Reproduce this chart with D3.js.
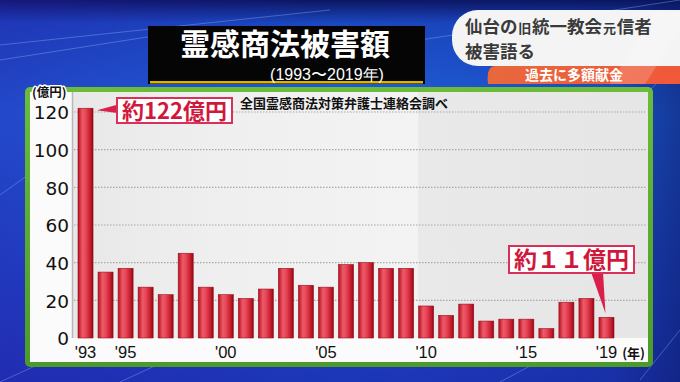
<!DOCTYPE html>
<html><head><meta charset="utf-8">
<script src="https://cdn.jsdelivr.net/npm/d3@7/dist/d3.min.js"></script>
<style>
html,body{margin:0;padding:0;background:#1a4fc8;overflow:hidden;}
svg{display:block;}
</style></head>
<body>
<svg id="c" width="680" height="382"></svg>
<script>
// ---- data ----
const years = [1993,1994,1995,1996,1997,1998,1999,2000,2001,2002,2003,2004,2005,2006,2007,2008,2009,2010,2011,2012,2013,2014,2015,2016,2017,2018,2019];
const damage = [122,35,37,27,23,45,27,23,21,26,37,28,27,39,40,37,37,17,12,18,9,10,10,5,19,21,11];
const yTicks = [0,20,40,60,80,100,120];
const xTickYears = [1993,1995,2000,2005,2010,2015,2019];
const xTickLabels = ["'93","'95","'00","'05","'10","'15","'19"];
const title = "霊感商法被害額";
const subtitle = "(1993〜2019年)";
const source = "全国霊感商法対策弁護士連絡会調べ";
const callouts = [{year:1993, text:"約122億円"}, {year:2019, text:"約１１億円"}];
const captionParts = [["仙台の",17.5],["旧",13],["統一教会",17.5],["元",13],["信者",17.5]];

const svg = d3.select("#c");
const defs = svg.append("defs");
const JP = "'Noto Sans CJK JP','Noto Sans CJK SC',sans-serif";

// background gradients
const bg = defs.append("linearGradient").attr("id","bg").attr("x1",0).attr("y1",0).attr("x2",0).attr("y2",1);
bg.append("stop").attr("offset","0").attr("stop-color","#0b1660");
bg.append("stop").attr("offset","0.06").attr("stop-color","#1a48c0");
bg.append("stop").attr("offset","0.3").attr("stop-color","#1f62dc");
bg.append("stop").attr("offset","1").attr("stop-color","#1c36b8");
const bg2 = defs.append("linearGradient").attr("id","bg2").attr("x1",0).attr("y1",0).attr("x2",1).attr("y2",0);
bg2.append("stop").attr("offset","0").attr("stop-color","#2a1aa8").attr("stop-opacity",0.35);
bg2.append("stop").attr("offset","0.5").attr("stop-color","#2a1aa8").attr("stop-opacity",0);
bg2.append("stop").attr("offset","0.9").attr("stop-color","#0a1660").attr("stop-opacity",0.2);
bg2.append("stop").attr("offset","1").attr("stop-color","#0a1660").attr("stop-opacity",0.55);
svg.append("rect").attr("width",680).attr("height",382).attr("fill","url(#bg)");
svg.append("rect").attr("width",680).attr("height",382).attr("fill","url(#bg2)");
const streaks = [[0,45,330,10],[0,60,160,35],[0,195,28,175],[0,382,70,350],[120,382,200,345],[500,382,560,350],[640,380,680,330],[420,40,680,0],[640,100,680,60]];
svg.append("g").selectAll("line").data(streaks).join("line")
  .attr("x1",d=>d[0]).attr("y1",d=>d[1]).attr("x2",d=>d[2]).attr("y2",d=>d[3])
  .attr("stroke","#9fc4ff").attr("stroke-opacity",0.35).attr("stroke-width",1);

// title box
svg.append("rect").attr("x",148).attr("y",26).attr("width",277).attr("height",58).attr("fill","#050505");
svg.append("rect").attr("x",150).attr("y",81).attr("width",273).attr("height",2.5).attr("fill","#d9b400");
svg.append("text").attr("x",285).attr("y",55).attr("text-anchor","middle")
  .attr("font-family",JP).attr("font-weight",700).attr("font-size",30).attr("fill","#fff").text(title);
svg.append("text").attr("x",327).attr("y",80).attr("text-anchor","middle")
  .attr("font-family","'Liberation Sans Narrow','Liberation Sans',sans-serif").attr("font-size",16).attr("fill","#fff").text(subtitle);

// top-right caption
svg.append("path").attr("d","M478,10 H680 V66 H478 A26,26 0 0 1 452,40 V36 A26,26 0 0 1 478,10 Z").attr("fill","#f4f4f4");
const og = defs.append("linearGradient").attr("id","og").attr("x1",0).attr("y1",0).attr("x2",1).attr("y2",0);
og.append("stop").attr("offset","0").attr("stop-color","#e8683c");
og.append("stop").attr("offset","1").attr("stop-color","#f0583a");
svg.append("path").attr("d","M495,66 H680 V84 H488 Q486,66 495,66 Z").attr("fill","url(#og)");
svg.append("polygon").attr("points","610,84 655,12 680,12 680,30 645,84").attr("fill","#ffffff").attr("opacity",0.18);
let cx = 465;
captionParts.forEach(([t,s])=>{
  const el = svg.append("text").attr("x",cx).attr("y",33).attr("font-family",JP).attr("font-weight",700)
    .attr("font-size",s).attr("fill","#3a3a3a").text(t);
  cx += el.node().getComputedTextLength() + 0.8;
});
svg.append("text").attr("x",465).attr("y",58).attr("font-family",JP).attr("font-weight",700).attr("font-size",17.5).attr("fill","#3a3a3a").text("被害語る");
svg.append("text").attr("x",574).attr("y",80).attr("text-anchor","middle").attr("font-family",JP).attr("font-weight",700).attr("font-size",14).attr("fill","#fff").text("過去に多額献金");

// panel
const gg = defs.append("linearGradient").attr("id","gg").attr("x1",0).attr("y1",0).attr("x2",0).attr("y2",1);
gg.append("stop").attr("offset","0").attr("stop-color","#6cbc3a");
gg.append("stop").attr("offset","1").attr("stop-color","#4c9a28");
svg.append("rect").attr("x",25).attr("y",87).attr("width",628).attr("height",280).attr("rx",5).attr("fill","url(#gg)");
svg.append("rect").attr("x",30).attr("y",92).attr("width",618).attr("height",270).attr("fill","#fbfbfb");

// scales
const x = d3.scaleBand().domain(years).range([75.5,616.5]).paddingInner(0.25).paddingOuter(0.125);
const y = d3.scaleLinear().domain([0,120]).range([338,112]);

// plot background
const pg = defs.append("linearGradient").attr("id","pg").attr("x1",0).attr("y1",0).attr("x2",1).attr("y2",0);
pg.append("stop").attr("offset","0").attr("stop-color","#e8e8e8");
pg.append("stop").attr("offset","0.25").attr("stop-color","#efefef");
pg.append("stop").attr("offset","0.6").attr("stop-color","#f3f3f3");
pg.append("stop").attr("offset","0.601").attr("stop-color","#e9e9e9");
pg.append("stop").attr("offset","1").attr("stop-color","#e6e6e6");
svg.append("rect").attr("x",73).attr("y",92).attr("width",575).attr("height",y(0)-92).attr("fill","url(#pg)");
svg.append("line").attr("x1",72.5).attr("x2",72.5).attr("y1",92).attr("y2",y(0)).attr("stroke","#b8b8b8").attr("stroke-width",1.5);

// gridlines
svg.append("g").selectAll("line").data(yTicks.filter(d=>d>0)).join("line")
  .attr("x1",74).attr("x2",646).attr("y1",d=>y(d)).attr("y2",d=>y(d))
  .attr("stroke","#a8a8a8").attr("stroke-width",1.2).attr("stroke-dasharray","1.5,1.5");

// bars
const rg = defs.append("linearGradient").attr("id","rg").attr("x1",0).attr("y1",0).attr("x2",1).attr("y2",0);
rg.append("stop").attr("offset","0").attr("stop-color","#b8101f");
rg.append("stop").attr("offset","0.3").attr("stop-color","#ec5a68");
rg.append("stop").attr("offset","0.5").attr("stop-color","#e8485a");
rg.append("stop").attr("offset","0.85").attr("stop-color","#c01828");
rg.append("stop").attr("offset","1").attr("stop-color","#8a0810");
svg.append("g").selectAll("rect").data(years).join("rect")
  .attr("x",d=>x(d)).attr("width",x.bandwidth())
  .attr("y",(d,i)=>y(damage[i])).attr("height",(d,i)=>y(0)-y(damage[i]))
  .attr("fill","url(#rg)").attr("stroke","#9a1020").attr("stroke-width",0.6);

// y axis
const yAxis = svg.append("g").attr("transform","translate(69,0)")
  .call(d3.axisLeft(y).tickValues(yTicks).tickSize(0).tickPadding(0));
yAxis.select(".domain").remove();
yAxis.selectAll("text").attr("font-family","'DejaVu Sans',sans-serif").attr("font-size",18.5).attr("fill","#111").attr("dy","0.36em");

// x axis
const xAxis = svg.append("g").attr("transform",`translate(0,${y(0)})`)
  .call(d3.axisBottom(x).tickValues(xTickYears).tickFormat(d=>xTickLabels[xTickYears.indexOf(d)]).tickSize(0).tickPadding(8));
xAxis.select(".domain").remove();
xAxis.selectAll("text").attr("font-family","'Liberation Sans Narrow','Liberation Sans',sans-serif").attr("font-size",16.5).attr("fill","#111").attr("dy","0.75em");

// unit labels
function haloText(xp, yp, txt, size, anchor){
  const g = svg.append("g");
  g.append("text").attr("x",xp).attr("y",yp).attr("text-anchor",anchor).attr("font-family",JP).attr("font-weight",700)
   .attr("font-size",size).attr("fill","none").attr("stroke","#fff").attr("stroke-width",3).attr("stroke-linejoin","round").text(txt);
  g.append("text").attr("x",xp).attr("y",yp).attr("text-anchor",anchor).attr("font-family",JP).attr("font-weight",700)
   .attr("font-size",size).attr("fill","#111").text(txt);
}
haloText(32,97,"(億円)",12.5,"start");
haloText(645,358,"(年)",13,"end");

// source
svg.append("text").attr("x",240).attr("y",108).attr("font-family",JP).attr("font-weight",700).attr("font-size",13).attr("fill","#111").text(source);

// callouts
const c0 = callouts[0], i0 = years.indexOf(c0.year);
const tipX0 = x(c0.year)+x.bandwidth()+4, tipY0 = y(damage[i0])+2;
svg.append("polygon").attr("points",`${tipX0},${tipY0} 119,${tipY0-6} 119,${tipY0+3}`).attr("fill","#d8204a");
svg.append("rect").attr("x",117).attr("y",98).attr("width",115).attr("height",25).attr("fill","#fff").attr("stroke","#d8305a").attr("stroke-width",2);
svg.append("text").attr("x",174.5).attr("y",119).attr("text-anchor","middle").attr("font-family",JP).attr("font-weight",700).attr("font-size",22).attr("fill","#d0183c").text(c0.text);

const c1 = callouts[1], i1 = years.indexOf(c1.year);
const tipX1 = x(c1.year)+x.bandwidth()/2-1, tipY1 = y(damage[i1])-4;
svg.append("polygon").attr("points",`${tipX1},${tipY1} 591,272 603,272`).attr("fill","#d8204a");
svg.append("rect").attr("x",509).attr("y",246).attr("width",125).attr("height",27).attr("fill","#fff").attr("stroke","#d8305a").attr("stroke-width",2);
svg.append("text").attr("x",571.5).attr("y",268).attr("text-anchor","middle").attr("font-family",JP).attr("font-weight",700).attr("font-size",23).attr("fill","#d0183c").text(c1.text);
</script>
</body></html>
